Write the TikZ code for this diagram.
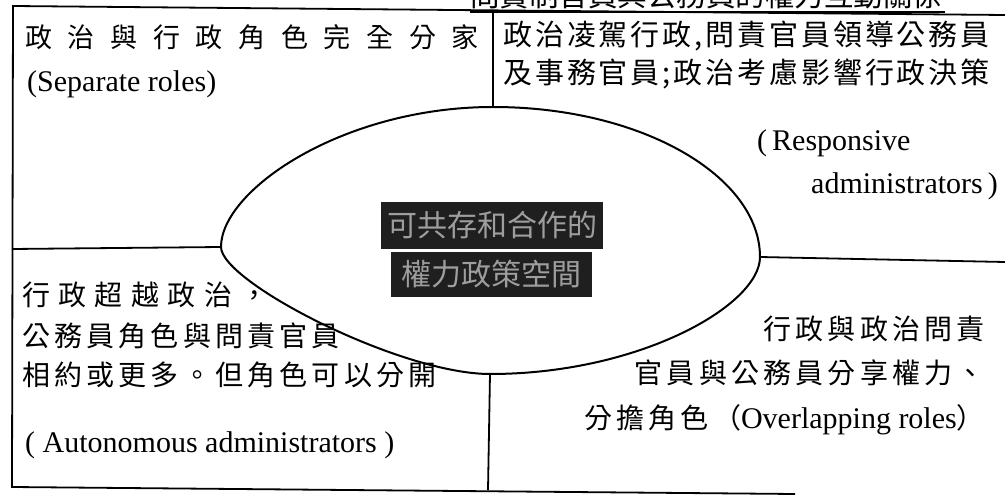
\documentclass[tikz,border=0pt]{standalone}
\usepackage{fontspec}
\setmainfont{Liberation Serif}
\newfontfamily\cjk{Noto Sans CJK TC}
\newfontfamily\cjkA{Noto Sans CJK TC}[LetterSpace=15]
\newfontfamily\cjkB{Noto Sans CJK TC}[LetterSpace=10]
\newfontfamily\cjkC{Noto Sans CJK TC}[LetterSpace=30]
\newfontfamily\cjkD{Noto Sans CJK TC}[LetterSpace=58]
\tikzset{
  frame/.style={line width=1.8pt, black},
  oval/.style={line width=2pt, black},
  txtw/.style={inner sep=0pt, anchor=base west},
  txte/.style={inner sep=0pt, anchor=base east},
  darkbox/.style={fill=black!88, text=black!38, inner sep=0pt, font=\cjk\fontsize{30}{30}\selectfont},
}
\begin{document}
\begin{tikzpicture}[x=1pt,y=-1pt]
\useasboundingbox (0,0) rectangle (1005,497);
% clipped title (only its lower part is visible)
\begin{scope}
\clip (455,0) rectangle (965,10);
\node[txtw, font=\cjk\fontsize{29.5}{29.5}\selectfont] (title) at (470,7) {問責制官員與公務員的權力互動關係};
\end{scope}
\coordinate (ul1) at (470,12);
\coordinate (ul2) at (945,12);
\draw[line width=1.5pt] (ul1) -- (ul2);
% outer frame
\coordinate (TLc) at (13,6);
\coordinate (TRc) at (1005,15);
\coordinate (BLc) at (12,487);
\coordinate (BRc) at (795,494);
\draw[frame] (TRc) -- (TLc) -- (BLc) -- (BRc);
% central oval (points where the dividers meet it)
\coordinate (T) at (493,107);
\coordinate (L) at (221,247);
\coordinate (B) at (490,374);
\coordinate (R) at (760,257);
\draw[oval] (T) .. controls (643,107) and (760,177) .. (R)
  .. controls (760,305) and (640,374) .. (B)
  .. controls (400,374) and (221,282) .. (L)
  .. controls (221,190) and (343,107) .. (T) -- cycle;
% dividers
\coordinate (ut) at (493,13);
\coordinate (lb) at (488,490);
\coordinate (lh) at (12,249);
\coordinate (rh) at (1005,262);
\draw[frame] (ut) -- (T);
\draw[frame] (lb) -- (B);
\draw[frame] (lh) -- (L);
\draw[frame] (rh) -- (R);
% center text
\node[darkbox, minimum width=222pt, minimum height=47pt] (c1) at (492,225.5) {可共存和合作的};
\node[darkbox, minimum width=201pt, minimum height=45pt] (c2) at (491.5,274.5) {權力政策空間};
% top-left
\node[txtw, font=\cjkD\fontsize{27}{27}\selectfont] (tl1) at (25,48) {政治與行政角色完全分家};
\node[txtw, font=\fontsize{30}{30}\selectfont] (tl2) at (27,92) {(Separate roles)};
% top-right
\node[txtw, font=\cjkB\fontsize{29}{29}\selectfont] (tr1) at (503,46) {政治凌駕行政,問責官員領導公務員};
\node[txtw, font=\cjkB\fontsize{29}{29}\selectfont] (tr2) at (503,84) {及事務官員;政治考慮影響行政決策};
\node[txtw, font=\fontsize{30}{30}\selectfont] (tr3) at (757,151) {(\,Responsive};
\node[txte, font=\fontsize{30}{30}\selectfont] (tr4) at (998,194) {administrators\,)};
% bottom-left
\node[txtw, font=\cjkC\fontsize{28}{28}\selectfont] (bl1) at (22,306) {行政超越政治，};
\node[txtw, font=\cjkA\fontsize{28}{28}\selectfont] (bl2) at (22,346) {公務員角色與問責官員};
\node[txtw, font=\cjkA\fontsize{28}{28}\selectfont] (bl3) at (22,385) {相約或更多。但角色可以分開};
\node[txtw, font=\fontsize{30}{30}\selectfont] (bl4) at (25,452) {( Autonomous administrators )};
% bottom-right
\node[txte, font=\cjkA\fontsize{28}{28}\selectfont] (br1) at (985,340) {行政與政治問責};
\node[txte, font=\cjkA\fontsize{28}{28}\selectfont] (br2) at (985,384) {官員與公務員分享權力、};
\node[txte, font=\fontsize{30}{30}\selectfont] (br3) at (985,428) {{\cjkA\fontsize{28}{28}\selectfont 分擔角色（}Overlapping roles{\cjk\fontsize{28}{28}\selectfont ）}};
\end{tikzpicture}
\end{document}
